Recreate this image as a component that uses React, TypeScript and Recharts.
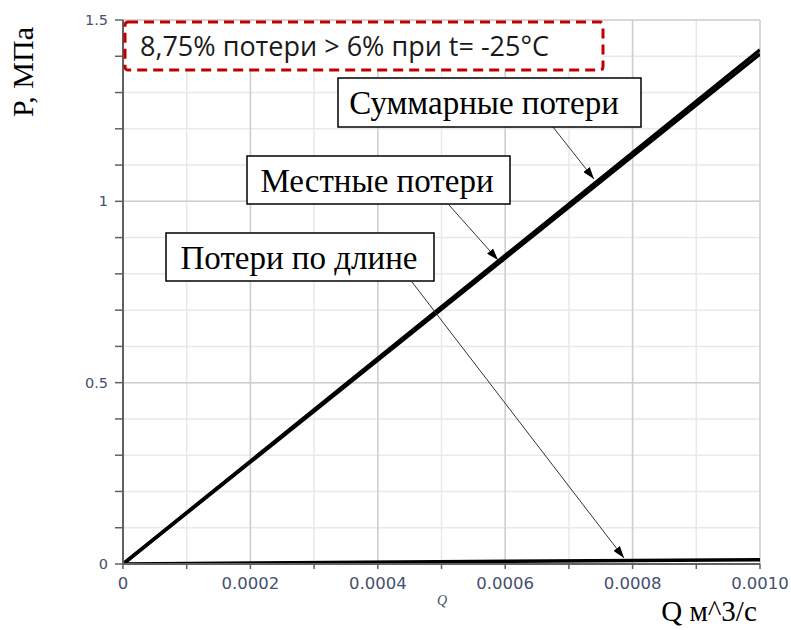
import React from 'react';
import { LineChart, Line, XAxis, YAxis, CartesianGrid, ReferenceLine } from 'recharts';

// Flow rate Q, m^3/s
const flowQ = [0, 0.001];
// Pressure losses, MPa
const totalLoss = [0, 1.418];
const localLoss = [0, 1.406];
const lengthLoss = [0, 0.012];

const xTicks = [0, 0.0001, 0.0002, 0.0003, 0.0004, 0.0005, 0.0006, 0.0007, 0.0008, 0.0009, 0.001];
const xTickLabels = ['0', '', '0.0002', '', '0.0004', '', '0.0006', '', '0.0008', '', '0.0010'];
const xMajor = [0.0002, 0.0004, 0.0006, 0.0008, 0.001];

const yTicks = [0, 0.1, 0.2, 0.3, 0.4, 0.5, 0.6, 0.7, 0.8, 0.9, 1, 1.1, 1.2, 1.3, 1.4, 1.5];
const yTickLabels = ['0', '', '', '', '', '0.5', '', '', '', '', '1', '', '', '', '', '1.5'];
const yMajor = [0.5, 1, 1.5];

const chartData = flowQ.map((q, i) => ({
  q,
  total: totalLoss[i],
  local: localLoss[i],
  length: lengthLoss[i],
}));

const TICK_COLOR = '#44506e';

const XTick = (props: any) => {
  const { x, y, index } = props;
  const label = xTickLabels[index];
  if (!label) return null;
  return (
    <text x={x} y={y} dy="0.71em" textAnchor="middle" fontFamily="DejaVu Sans" fontSize={16.5} fill={TICK_COLOR}>
      {label}
    </text>
  );
};

const YTick = (props: any) => {
  const { x, y, index } = props;
  const label = yTickLabels[index];
  if (!label) return null;
  return (
    <text x={x} y={y} dy="0.35em" textAnchor="end" fontFamily="DejaVu Sans" fontSize={14.5} fill={TICK_COLOR}>
      {label}
    </text>
  );
};

const serif = '"Liberation Serif", "Times New Roman", serif';

export default function App() {
  return (
    <div style={{ position: 'absolute', left: 0, top: 0, width: 791, height: 630, background: '#fff' }}>
      <LineChart width={791} height={630} data={chartData} margin={{ top: 20, right: 31, bottom: 0, left: 0 }}>
        <CartesianGrid stroke="#e9e9e9" strokeWidth={1.5} />
        {xMajor.map((v) => (
          <ReferenceLine key={'xm' + v} x={v} stroke="#cfcfcf" strokeWidth={1.5} />
        ))}
        {yMajor.map((v) => (
          <ReferenceLine key={'ym' + v} y={v} stroke="#cfcfcf" strokeWidth={1.5} />
        ))}
        <XAxis
          type="number"
          dataKey="q"
          domain={[0, 0.001]}
          ticks={xTicks}
          interval={0}
          allowDataOverflow
          height={66}
          tickSize={5}
          tickMargin={8}
          tick={<XTick />}
          axisLine={{ stroke: '#606060', strokeWidth: 2 }}
          tickLine={{ stroke: '#606060', strokeWidth: 1.5 }}
        />
        <YAxis
          type="number"
          domain={[0, 1.5]}
          ticks={yTicks}
          interval={0}
          allowDataOverflow
          width={123}
          tickSize={8}
          tickMargin={7}
          tick={<YTick />}
          axisLine={{ stroke: '#606060', strokeWidth: 2 }}
          tickLine={{ stroke: '#606060', strokeWidth: 1.5 }}
        />
        <Line type="linear" dataKey="length" stroke="#000" strokeWidth={3.5} dot={false} isAnimationActive={false} />
        <Line type="linear" dataKey="local" stroke="#000" strokeWidth={3.5} dot={false} isAnimationActive={false} />
        <Line type="linear" dataKey="total" stroke="#000" strokeWidth={3.5} dot={false} isAnimationActive={false} />
      </LineChart>
      <svg
        width={791}
        height={630}
        style={{ position: 'absolute', left: 0, top: 0, pointerEvents: 'none' }}
      >
        <defs>
          <marker id="arr" markerWidth={12} markerHeight={8} refX={12} refY={4} orient="auto" markerUnits="userSpaceOnUse">
            <path d="M0,0 L12,4 L0,8 z" fill="#000" />
          </marker>
        </defs>
        {/* Red dashed box */}
        <rect x={125} y={22} width={478} height={48} rx={3} fill="#fff" stroke="#c00000" strokeWidth={3} strokeDasharray="10 6" />
        <text x={140} y={56} fontFamily='"Open Sans", sans-serif' fontSize={27} fill="#1a1a1a">
          8,75% потери &gt; 6% при t= -25°C
        </text>

        {/* Arrows */}
        <line x1={553} y1={127} x2={594} y2={179} stroke="#333" strokeWidth={1} markerEnd="url(#arr)" />
        <line x1={449} y1={205} x2={498} y2={260} stroke="#333" strokeWidth={1} markerEnd="url(#arr)" />
        <line x1={412} y1={282} x2={624} y2={558} stroke="#333" strokeWidth={1} markerEnd="url(#arr)" />

        {/* Annotation boxes */}
        <rect x={338} y={78} width={303} height={49} fill="#fff" stroke="#000" strokeWidth={1.5} />
        <text x={484} y={114} textAnchor="middle" fontFamily={serif} fontSize={33} fill="#000">
          Суммарные потери
        </text>
        <rect x={247} y={156} width={263} height={48} fill="#fff" stroke="#000" strokeWidth={1.5} />
        <text x={377} y={192} textAnchor="middle" fontFamily={serif} fontSize={33} fill="#000">
          Местные потери
        </text>
        <rect x={166} y={233} width={268} height={48} fill="#fff" stroke="#000" strokeWidth={1.5} />
        <text x={299} y={269} textAnchor="middle" fontFamily={serif} fontSize={33} fill="#000">
          Потери по длине
        </text>

        {/* Axis titles */}
        <text transform="translate(33,72) rotate(-90)" textAnchor="middle" fontFamily={serif} fontSize={30} fill="#000">
          P, МПа
        </text>
        <text x={442} y={605} textAnchor="middle" fontFamily={serif} fontStyle="italic" fontSize={14} fill={TICK_COLOR}>
          Q
        </text>
        <text x={709} y={621} textAnchor="middle" fontFamily={serif} fontSize={29} fill="#000">
          Q м^3/с
        </text>
      </svg>
    </div>
  );
}
